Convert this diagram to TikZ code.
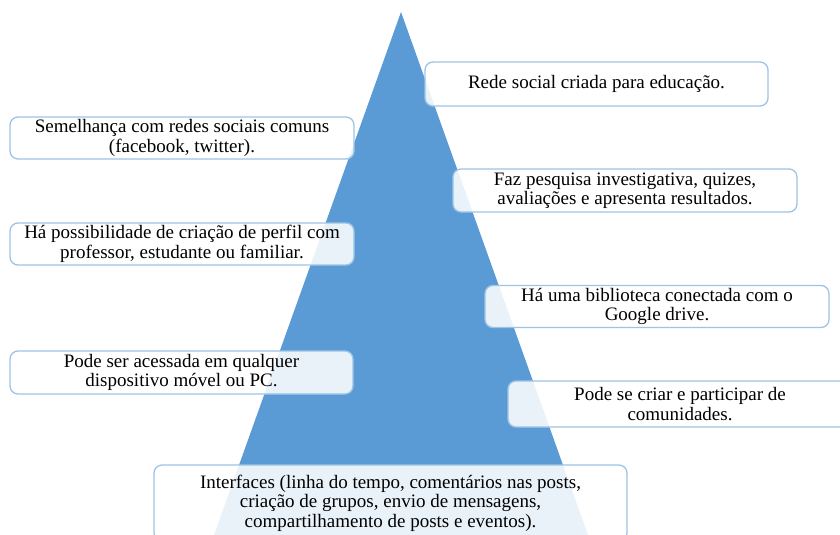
\documentclass[tikz,border=0pt]{standalone}
\usepackage{fontspec}
\setmainfont{Liberation Serif}
\definecolor{triblue}{RGB}{91,155,213}
\definecolor{boxedge}{RGB}{157,195,230}
\begin{document}
\begin{tikzpicture}[x=1pt,y=-1pt,
  infobox/.style={draw=boxedge, line width=1.3pt, rounded corners=8pt,
    fill=white, fill opacity=0.87, text opacity=1, align=center,
    font=\fontsize{19}{19.5}\selectfont, inner sep=0pt, text=black}]
\useasboundingbox (0,0) rectangle (840,535);
\begin{scope}
\clip (0,0) rectangle (840,535);
\fill[triblue] (401,12) -- (588,535) -- (214,535) -- cycle;
\node[infobox, minimum width=343pt, minimum height=44pt] (b1) at (596.5,84) {Rede social criada para educação.};
\node[infobox, minimum width=344pt, minimum height=42pt] (b2) at (182,138) {Semelhança com redes sociais comuns\\(facebook, twitter).};
\node[infobox, minimum width=344pt, minimum height=43pt] (b3) at (625,190.5) {Faz pesquisa investigativa, quizes,\\avaliações e apresenta resultados.};
\node[infobox, minimum width=344pt, minimum height=42pt] (b4) at (182,244) {Há possibilidade de criação de perfil com\\professor, estudante ou familiar.};
\node[infobox, minimum width=344pt, minimum height=42pt] (b5) at (657,306.5) {Há uma biblioteca conectada com o\\Google drive.};
\node[infobox, minimum width=343pt, minimum height=43pt] (b6) at (181.5,372.5) {Pode ser acessada em qualquer\\dispositivo móvel ou PC.};
\node[infobox, minimum width=344pt, minimum height=46pt] (b7) at (680,404) {Pode se criar e participar de\\comunidades.};
\node[infobox, minimum width=473pt, minimum height=76pt] (b8) at (390.5,503) {Interfaces (linha do tempo, comentários nas posts,\\criação de grupos, envio de mensagens,\\compartilhamento de posts e eventos).};
\end{scope}
\end{tikzpicture}
\end{document}
